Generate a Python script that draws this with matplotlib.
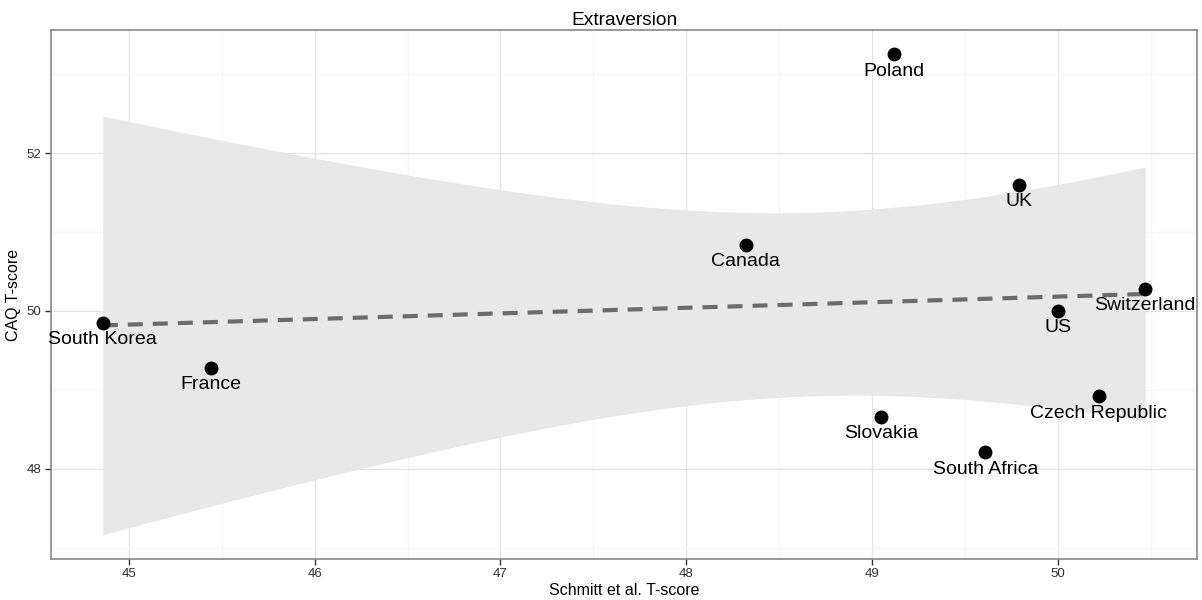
import matplotlib

matplotlib.use("Agg")
import matplotlib.pyplot as plt
import numpy as np
from matplotlib.ticker import MultipleLocator

plt.rcParams["font.family"] = ["Liberation Sans", "DejaVu Sans"]

COUNTRIES = ["South Korea", "France", "Canada", "Poland", "Slovakia",
             "UK", "US", "Switzerland", "Czech Republic", "South Africa"]
SCHMITT = [44.86, 45.44, 48.32, 49.12, 49.05, 49.79, 50.00, 50.47, 50.22, 49.61]
CAQ = [49.85, 49.28, 50.84, 53.25, 48.66, 51.60, 50.00, 50.28, 48.92, 48.21]
T_975_DF8 = 2.306  # t quantile for 95% CI with n - 2 = 8 degrees of freedom


def lm_band(x, y, n=200):
    x = np.asarray(x)
    y = np.asarray(y)
    slope, intercept = np.polyfit(x, y, 1)
    xs = np.linspace(x.min(), x.max(), n)
    fit = intercept + slope * xs
    resid = y - (intercept + slope * x)
    s = np.sqrt(np.sum(resid ** 2) / (len(x) - 2))
    se = s * np.sqrt(1 / len(x) + (xs - x.mean()) ** 2 / np.sum((x - x.mean()) ** 2))
    return xs, fit, fit - T_975_DF8 * se, fit + T_975_DF8 * se


def main():
    fig = plt.figure(figsize=(12.02, 6.0), dpi=100)
    ax = fig.add_axes([0.0422, 0.0688, 0.9539, 0.8807])

    xs, fit, lo, hi = lm_band(SCHMITT, CAQ)
    ax.fill_between(xs, lo, hi, color="#e8e8e8", linewidth=0, zorder=1)
    ax.plot(xs, fit, color="#6b6b6b", linewidth=3.0, dashes=(3.6, 2.4),
            zorder=2)
    ax.scatter(SCHMITT, CAQ, s=100, color="black", zorder=3, linewidths=0)
    for name, x, y in zip(COUNTRIES, SCHMITT, CAQ):
        ax.annotate(name, (x, y), xytext=(0, -15.4), textcoords="offset points",
                    ha="center", va="baseline", fontsize=14, color="black",
                    zorder=4, annotation_clip=False)

    ax.margins(0.05)
    ax.xaxis.set_major_locator(MultipleLocator(1))
    ax.xaxis.set_minor_locator(MultipleLocator(0.5))
    ax.yaxis.set_major_locator(MultipleLocator(2))
    ax.yaxis.set_minor_locator(MultipleLocator(1))
    ax.grid(which="major", color="#e5e5e5", linewidth=0.9, zorder=0)
    ax.grid(which="minor", color="#f7f7f7", linewidth=0.9, zorder=0)
    ax.set_axisbelow(True)
    ax.tick_params(which="major", length=4, width=1, color="#333333",
                   labelcolor="#333333", labelsize=9.5, pad=3)
    ax.tick_params(which="minor", length=0)
    for spine in ax.spines.values():
        spine.set_color("#7f7f7f")
        spine.set_linewidth(1.1)

    ax.set_title("Extraversion", fontsize=13.8, pad=4)
    ax.set_xlabel("Schmitt et al. T-score", fontsize=11.5, labelpad=2)
    ax.set_ylabel("CAQ T-score", fontsize=11.5, labelpad=4)

    fig.savefig("out.png", dpi=100)
    plt.close(fig)


if __name__ == "__main__":
    main()
